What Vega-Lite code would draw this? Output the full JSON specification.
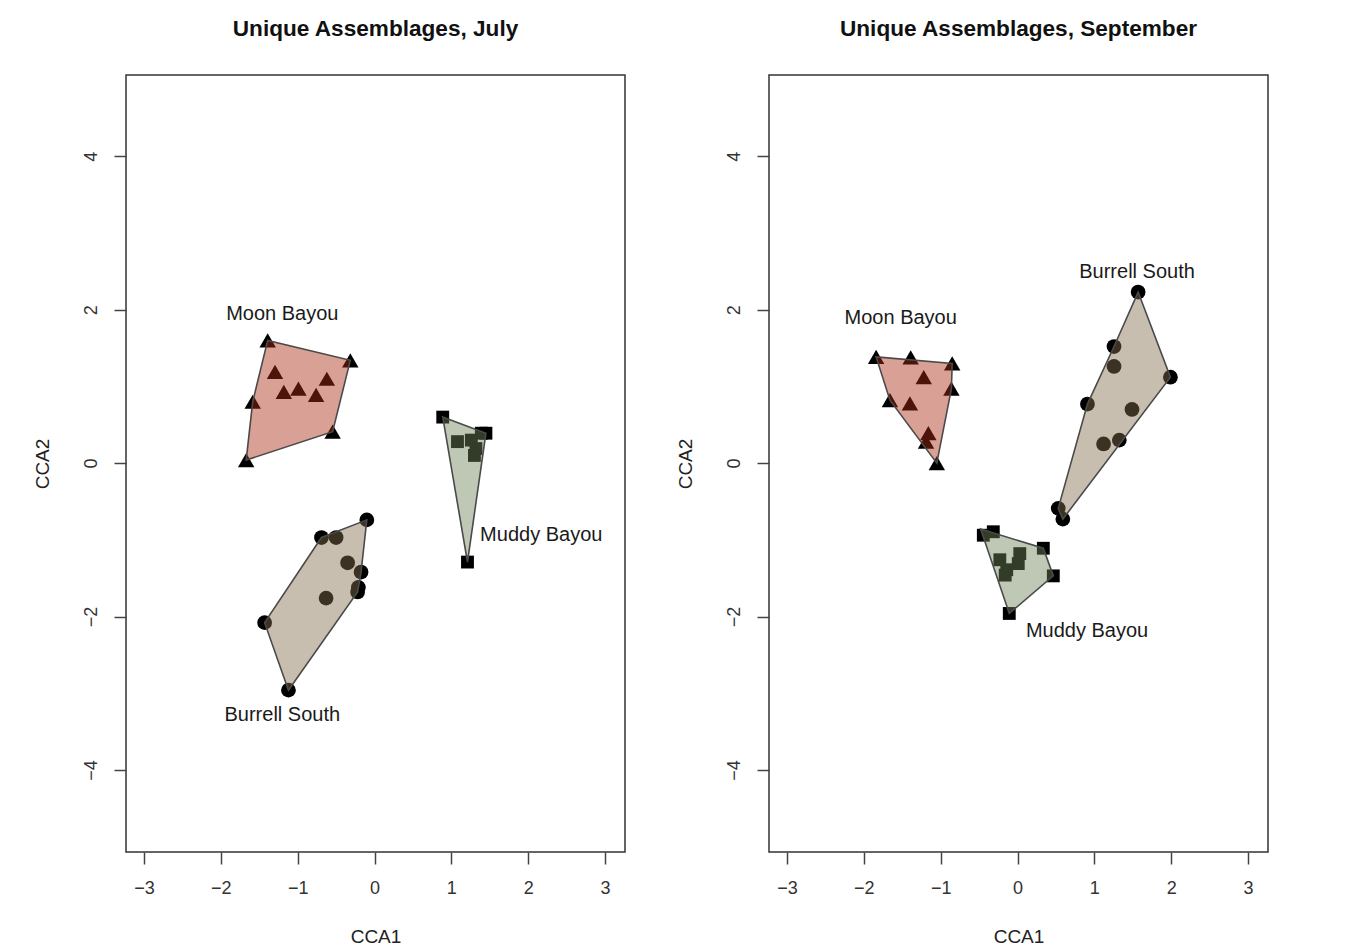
{
  "$schema": "https://vega.github.io/schema/vega-lite/v6.json",
  "background": "white",
  "padding": {"left": 32, "top": 17, "right": 10, "bottom": 5},
  "bounds": "flush",
  "spacing": 144,
  "config": {
    "font": "Liberation Sans",
    "view": {"stroke": "#333333", "strokeWidth": 1.5},
    "axis": {
      "grid": false,
      "domain": false,
      "tickColor": "#444444",
      "tickWidth": 1.5,
      "tickSize": 12,
      "format": "d",
      "labelFont": "Liberation Sans",
      "labelFontSize": 18,
      "labelColor": "#333333",
      "titleFont": "Liberation Sans",
      "titleFontSize": 19,
      "titleFontWeight": "normal",
      "titleColor": "#222222"
    },
    "axisX": {"labelPadding": 15, "titlePadding": 30, "labelFlush": false},
    "axisY": {"labelAngle": -90, "labelAlign": "center", "labelBaseline": "bottom", "labelPadding": 14, "titlePadding": 30, "labelFlush": false},
    "title": {"font": "Liberation Sans", "fontSize": 22.6, "fontWeight": "bold", "color": "#111111", "offset": 34}
  },
  "datasets": {
    "pts": [
      {"month": "July", "site": "Moon Bayou", "cca1": -1.39, "cca2": 1.60},
      {"month": "July", "site": "Moon Bayou", "cca1": -0.315, "cca2": 1.34},
      {"month": "July", "site": "Moon Bayou", "cca1": -1.295, "cca2": 1.19},
      {"month": "July", "site": "Moon Bayou", "cca1": -1.18, "cca2": 0.93},
      {"month": "July", "site": "Moon Bayou", "cca1": -0.99, "cca2": 0.97},
      {"month": "July", "site": "Moon Bayou", "cca1": -0.76, "cca2": 0.89},
      {"month": "July", "site": "Moon Bayou", "cca1": -0.62, "cca2": 1.10},
      {"month": "July", "site": "Moon Bayou", "cca1": -1.585, "cca2": 0.80},
      {"month": "July", "site": "Moon Bayou", "cca1": -0.545, "cca2": 0.41},
      {"month": "July", "site": "Moon Bayou", "cca1": -1.67, "cca2": 0.04},
      {"month": "July", "site": "Burrell South", "cca1": -0.10, "cca2": -0.74},
      {"month": "July", "site": "Burrell South", "cca1": -0.69, "cca2": -0.97},
      {"month": "July", "site": "Burrell South", "cca1": -0.50, "cca2": -0.97},
      {"month": "July", "site": "Burrell South", "cca1": -0.35, "cca2": -1.30},
      {"month": "July", "site": "Burrell South", "cca1": -0.175, "cca2": -1.42},
      {"month": "July", "site": "Burrell South", "cca1": -0.21, "cca2": -1.62},
      {"month": "July", "site": "Burrell South", "cca1": -0.22, "cca2": -1.68},
      {"month": "July", "site": "Burrell South", "cca1": -0.63, "cca2": -1.76},
      {"month": "July", "site": "Burrell South", "cca1": -1.43, "cca2": -2.08},
      {"month": "July", "site": "Burrell South", "cca1": -1.12, "cca2": -2.96},
      {"month": "July", "site": "Muddy Bayou", "cca1": 0.888, "cca2": 0.60},
      {"month": "July", "site": "Muddy Bayou", "cca1": 1.45, "cca2": 0.39},
      {"month": "July", "site": "Muddy Bayou", "cca1": 1.08, "cca2": 0.28},
      {"month": "July", "site": "Muddy Bayou", "cca1": 1.26, "cca2": 0.30},
      {"month": "July", "site": "Muddy Bayou", "cca1": 1.32, "cca2": 0.19},
      {"month": "July", "site": "Muddy Bayou", "cca1": 1.30, "cca2": 0.10},
      {"month": "July", "site": "Muddy Bayou", "cca1": 1.39, "cca2": 0.39},
      {"month": "July", "site": "Muddy Bayou", "cca1": 1.21, "cca2": -1.29},
      {"month": "September", "site": "Moon Bayou", "cca1": -1.84, "cca2": 1.385},
      {"month": "September", "site": "Moon Bayou", "cca1": -1.39, "cca2": 1.38},
      {"month": "September", "site": "Moon Bayou", "cca1": -0.85, "cca2": 1.30},
      {"month": "September", "site": "Moon Bayou", "cca1": -1.22, "cca2": 1.12},
      {"month": "September", "site": "Moon Bayou", "cca1": -0.86, "cca2": 0.97},
      {"month": "September", "site": "Moon Bayou", "cca1": -1.66, "cca2": 0.82},
      {"month": "September", "site": "Moon Bayou", "cca1": -1.40, "cca2": 0.78},
      {"month": "September", "site": "Moon Bayou", "cca1": -1.16, "cca2": 0.39},
      {"month": "September", "site": "Moon Bayou", "cca1": -1.19, "cca2": 0.28},
      {"month": "September", "site": "Moon Bayou", "cca1": -1.05, "cca2": 0.0},
      {"month": "September", "site": "Burrell South", "cca1": 1.57, "cca2": 2.23},
      {"month": "September", "site": "Burrell South", "cca1": 1.256, "cca2": 1.52},
      {"month": "September", "site": "Burrell South", "cca1": 1.256, "cca2": 1.26},
      {"month": "September", "site": "Burrell South", "cca1": 1.99, "cca2": 1.12},
      {"month": "September", "site": "Burrell South", "cca1": 0.91, "cca2": 0.77},
      {"month": "September", "site": "Burrell South", "cca1": 1.49, "cca2": 0.70},
      {"month": "September", "site": "Burrell South", "cca1": 1.325, "cca2": 0.30},
      {"month": "September", "site": "Burrell South", "cca1": 1.12, "cca2": 0.25},
      {"month": "September", "site": "Burrell South", "cca1": 0.53, "cca2": -0.59},
      {"month": "September", "site": "Burrell South", "cca1": 0.59, "cca2": -0.73},
      {"month": "September", "site": "Muddy Bayou", "cca1": -0.445, "cca2": -0.94},
      {"month": "September", "site": "Muddy Bayou", "cca1": -0.315, "cca2": -0.895},
      {"month": "September", "site": "Muddy Bayou", "cca1": 0.336, "cca2": -1.11},
      {"month": "September", "site": "Muddy Bayou", "cca1": 0.466, "cca2": -1.47},
      {"month": "September", "site": "Muddy Bayou", "cca1": -0.107, "cca2": -1.96},
      {"month": "September", "site": "Muddy Bayou", "cca1": -0.23, "cca2": -1.26},
      {"month": "September", "site": "Muddy Bayou", "cca1": -0.14, "cca2": -1.39},
      {"month": "September", "site": "Muddy Bayou", "cca1": 0.03, "cca2": -1.18},
      {"month": "September", "site": "Muddy Bayou", "cca1": 0.01, "cca2": -1.31},
      {"month": "September", "site": "Muddy Bayou", "cca1": -0.16, "cca2": -1.46}
    ],
    "hulls": [
      {"month": "July", "site": "Moon Bayou", "k": 1, "cca1": -1.67, "cca2": 0.04},
      {"month": "July", "site": "Moon Bayou", "k": 2, "cca1": -1.585, "cca2": 0.80},
      {"month": "July", "site": "Moon Bayou", "k": 3, "cca1": -1.39, "cca2": 1.60},
      {"month": "July", "site": "Moon Bayou", "k": 4, "cca1": -0.315, "cca2": 1.34},
      {"month": "July", "site": "Moon Bayou", "k": 5, "cca1": -0.545, "cca2": 0.41},
      {"month": "July", "site": "Burrell South", "k": 1, "cca1": -0.10, "cca2": -0.74},
      {"month": "July", "site": "Burrell South", "k": 2, "cca1": -0.69, "cca2": -0.97},
      {"month": "July", "site": "Burrell South", "k": 3, "cca1": -1.43, "cca2": -2.08},
      {"month": "July", "site": "Burrell South", "k": 4, "cca1": -1.12, "cca2": -2.96},
      {"month": "July", "site": "Burrell South", "k": 5, "cca1": -0.22, "cca2": -1.68},
      {"month": "July", "site": "Burrell South", "k": 6, "cca1": -0.175, "cca2": -1.42},
      {"month": "July", "site": "Muddy Bayou", "k": 1, "cca1": 0.888, "cca2": 0.60},
      {"month": "July", "site": "Muddy Bayou", "k": 2, "cca1": 1.45, "cca2": 0.39},
      {"month": "July", "site": "Muddy Bayou", "k": 3, "cca1": 1.21, "cca2": -1.29},
      {"month": "September", "site": "Moon Bayou", "k": 1, "cca1": -1.84, "cca2": 1.385},
      {"month": "September", "site": "Moon Bayou", "k": 2, "cca1": -0.85, "cca2": 1.30},
      {"month": "September", "site": "Moon Bayou", "k": 3, "cca1": -0.86, "cca2": 0.97},
      {"month": "September", "site": "Moon Bayou", "k": 4, "cca1": -1.05, "cca2": 0.0},
      {"month": "September", "site": "Moon Bayou", "k": 5, "cca1": -1.66, "cca2": 0.82},
      {"month": "September", "site": "Burrell South", "k": 1, "cca1": 1.57, "cca2": 2.23},
      {"month": "September", "site": "Burrell South", "k": 2, "cca1": 1.99, "cca2": 1.12},
      {"month": "September", "site": "Burrell South", "k": 3, "cca1": 0.59, "cca2": -0.73},
      {"month": "September", "site": "Burrell South", "k": 4, "cca1": 0.53, "cca2": -0.59},
      {"month": "September", "site": "Burrell South", "k": 5, "cca1": 0.91, "cca2": 0.77},
      {"month": "September", "site": "Burrell South", "k": 6, "cca1": 1.256, "cca2": 1.52},
      {"month": "September", "site": "Muddy Bayou", "k": 1, "cca1": -0.48, "cca2": -0.86},
      {"month": "September", "site": "Muddy Bayou", "k": 2, "cca1": 0.336, "cca2": -1.11},
      {"month": "September", "site": "Muddy Bayou", "k": 3, "cca1": 0.466, "cca2": -1.47},
      {"month": "September", "site": "Muddy Bayou", "k": 4, "cca1": -0.107, "cca2": -1.96}
    ],
    "labels": [
      {"month": "July", "site": "Moon Bayou", "cca1": -1.20, "cca2": 1.94},
      {"month": "July", "site": "Burrell South", "cca1": -1.20, "cca2": -3.28},
      {"month": "July", "site": "Muddy Bayou", "cca1": 2.17, "cca2": -0.94},
      {"month": "September", "site": "Moon Bayou", "cca1": -1.52, "cca2": 1.89},
      {"month": "September", "site": "Burrell South", "cca1": 1.556, "cca2": 2.49},
      {"month": "September", "site": "Muddy Bayou", "cca1": 0.905, "cca2": -2.19}
    ]
  },
  "hconcat": [
    {
      "title": "Unique Assemblages, July",
      "width": 499,
      "height": 777,
      "layer": [
        {"mark": {"type": "rule", "color": "#9a9a9a", "strokeDash": [2, 2], "strokeWidth": 1}, "encoding": {"x": {"datum": 0, "type": "quantitative", "scale": {"domain": [-3.234, 3.26], "nice": false, "zero": false}}}},
        {"mark": {"type": "rule", "color": "#9a9a9a", "strokeDash": [2, 2], "strokeWidth": 1}, "encoding": {"y": {"datum": 0, "type": "quantitative", "scale": {"domain": [-5.07, 5.06], "nice": false, "zero": false}}}},
        {
          "data": {"name": "pts"},
          "transform": [{"filter": "datum.month === 'July'"}],
          "mark": {"type": "point", "filled": true, "opacity": 1, "color": "#000000"},
          "encoding": {
            "x": {"field": "cca1", "type": "quantitative", "scale": {"domain": [-3.234, 3.26], "nice": false, "zero": false}, "axis": {"title": "CCA1", "values": [-3, -2, -1, 0, 1, 2, 3]}},
            "y": {"field": "cca2", "type": "quantitative", "scale": {"domain": [-5.07, 5.06], "nice": false, "zero": false}, "axis": {"title": "CCA2", "values": [-4, -2, 0, 2, 4]}},
            "shape": {"field": "site", "type": "nominal", "scale": {"domain": ["Moon Bayou", "Burrell South", "Muddy Bayou"], "range": ["triangle-up", "circle", "square"]}, "legend": null},
            "size": {"field": "site", "type": "nominal", "scale": {"domain": ["Moon Bayou", "Burrell South", "Muddy Bayou"], "range": [270, 165, 150]}, "legend": null}
          }
        },
        {
          "data": {"name": "hulls"},
          "transform": [{"filter": "datum.month === 'July'"}],
          "mark": {"type": "line", "interpolate": "linear-closed", "stroke": "#4a4a4a", "strokeWidth": 1.6, "fillOpacity": 0.45},
          "encoding": {
            "x": {"field": "cca1", "type": "quantitative"},
            "y": {"field": "cca2", "type": "quantitative"},
            "detail": {"field": "site"},
            "order": {"field": "k", "type": "quantitative"},
            "fill": {"field": "site", "type": "nominal", "scale": {"domain": ["Moon Bayou", "Burrell South", "Muddy Bayou"], "range": ["#aa2c16", "#856f4d", "#6f8558"]}, "legend": null}
          }
        },
        {
          "data": {"name": "labels"},
          "transform": [{"filter": "datum.month === 'July'"}],
          "mark": {"type": "text", "fontSize": 20, "color": "#1a1a1a", "font": "Liberation Sans"},
          "encoding": {
            "x": {"field": "cca1", "type": "quantitative"},
            "y": {"field": "cca2", "type": "quantitative"},
            "text": {"field": "site"}
          }
        }
      ]
    },
    {
      "title": "Unique Assemblages, September",
      "width": 499,
      "height": 777,
      "layer": [
        {"mark": {"type": "rule", "color": "#9a9a9a", "strokeDash": [2, 2], "strokeWidth": 1}, "encoding": {"x": {"datum": 0, "type": "quantitative", "scale": {"domain": [-3.234, 3.26], "nice": false, "zero": false}}}},
        {"mark": {"type": "rule", "color": "#9a9a9a", "strokeDash": [2, 2], "strokeWidth": 1}, "encoding": {"y": {"datum": 0, "type": "quantitative", "scale": {"domain": [-5.07, 5.06], "nice": false, "zero": false}}}},
        {
          "data": {"name": "pts"},
          "transform": [{"filter": "datum.month === 'September'"}],
          "mark": {"type": "point", "filled": true, "opacity": 1, "color": "#000000"},
          "encoding": {
            "x": {"field": "cca1", "type": "quantitative", "scale": {"domain": [-3.234, 3.26], "nice": false, "zero": false}, "axis": {"title": "CCA1", "values": [-3, -2, -1, 0, 1, 2, 3]}},
            "y": {"field": "cca2", "type": "quantitative", "scale": {"domain": [-5.07, 5.06], "nice": false, "zero": false}, "axis": {"title": "CCA2", "values": [-4, -2, 0, 2, 4]}},
            "shape": {"field": "site", "type": "nominal", "scale": {"domain": ["Moon Bayou", "Burrell South", "Muddy Bayou"], "range": ["triangle-up", "circle", "square"]}, "legend": null},
            "size": {"field": "site", "type": "nominal", "scale": {"domain": ["Moon Bayou", "Burrell South", "Muddy Bayou"], "range": [270, 165, 150]}, "legend": null}
          }
        },
        {
          "data": {"name": "hulls"},
          "transform": [{"filter": "datum.month === 'September'"}],
          "mark": {"type": "line", "interpolate": "linear-closed", "stroke": "#4a4a4a", "strokeWidth": 1.6, "fillOpacity": 0.45},
          "encoding": {
            "x": {"field": "cca1", "type": "quantitative"},
            "y": {"field": "cca2", "type": "quantitative"},
            "detail": {"field": "site"},
            "order": {"field": "k", "type": "quantitative"},
            "fill": {"field": "site", "type": "nominal", "scale": {"domain": ["Moon Bayou", "Burrell South", "Muddy Bayou"], "range": ["#aa2c16", "#856f4d", "#6f8558"]}, "legend": null}
          }
        },
        {
          "data": {"name": "labels"},
          "transform": [{"filter": "datum.month === 'September'"}],
          "mark": {"type": "text", "fontSize": 20, "color": "#1a1a1a", "font": "Liberation Sans"},
          "encoding": {
            "x": {"field": "cca1", "type": "quantitative"},
            "y": {"field": "cca2", "type": "quantitative"},
            "text": {"field": "site"}
          }
        }
      ]
    }
  ]
}
